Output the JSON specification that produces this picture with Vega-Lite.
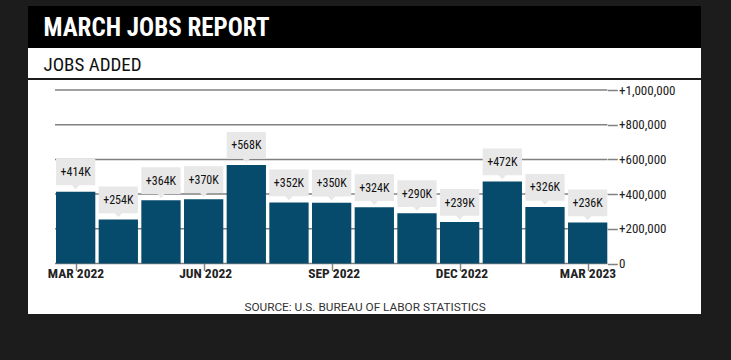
{
  "$schema": "https://vega.github.io/schema/vega-lite/v6.json",
  "background": "#1c1c1c",
  "padding": {"left": 28, "top": 6, "right": 30, "bottom": 46},
  "spacing": 0,
  "config": {"view": {"stroke": null}, "font": "'Roboto Condensed', 'DejaVu Sans Condensed', Roboto, sans-serif"},
  "vconcat": [
    {
      "width": 673,
      "height": 42,
      "view": {"fill": "#000000", "stroke": null},
      "data": {"values": [{"t": ""}]},
      "mark": {"type": "text"},
      "encoding": {
        "x": {"field": "t", "type": "nominal", "axis": {
          "orient": "top", "labels": false, "ticks": false, "domain": false, "grid": false,
          "title": "MARCH JOBS REPORT", "titleX": 15, "titleY": 29, "titleAlign": "left", "titleBaseline": "alphabetic", "titleAngle": 0,
          "titleColor": "#ffffff", "titleFont": "'Roboto Condensed', 'DejaVu Sans Condensed', Roboto, sans-serif", "titleFontSize": 25, "titleFontWeight": "bold"
        }},
        "text": {"field": "t"}
      }
    },
    {
      "spacing": 2,
      "vconcat": [
        {
          "width": 673,
          "height": 30,
          "view": {"fill": "#ffffff", "stroke": null},
          "data": {"values": [{"t": ""}]},
          "mark": {"type": "text"},
          "encoding": {
            "x": {"field": "t", "type": "nominal", "axis": {
              "orient": "top", "labels": false, "ticks": false, "domain": false, "grid": false,
              "title": "JOBS ADDED", "titleX": 15, "titleY": 22, "titleAlign": "left", "titleBaseline": "alphabetic", "titleAngle": 0,
              "titleColor": "#111111", "titleFont": "'Roboto Condensed', 'DejaVu Sans Condensed', Roboto, sans-serif", "titleFontSize": 19, "titleFontWeight": "normal"
            }},
            "text": {"field": "t"}
          }
        },
        {
          "width": 673,
          "height": 234,
          "view": {"fill": "#ffffff", "stroke": null},
          "data": {"values": [
            {"month": "MAR 2022", "jobs": 414000, "label": "+414K"},
            {"month": "APR 2022", "jobs": 254000, "label": "+254K"},
            {"month": "MAY 2022", "jobs": 364000, "label": "+364K"},
            {"month": "JUN 2022", "jobs": 370000, "label": "+370K"},
            {"month": "JUL 2022", "jobs": 568000, "label": "+568K"},
            {"month": "AUG 2022", "jobs": 352000, "label": "+352K"},
            {"month": "SEP 2022", "jobs": 350000, "label": "+350K"},
            {"month": "OCT 2022", "jobs": 324000, "label": "+324K"},
            {"month": "NOV 2022", "jobs": 290000, "label": "+290K"},
            {"month": "DEC 2022", "jobs": 239000, "label": "+239K"},
            {"month": "JAN 2023", "jobs": 472000, "label": "+472K"},
            {"month": "FEB 2023", "jobs": 326000, "label": "+326K"},
            {"month": "MAR 2023", "jobs": 236000, "label": "+236K"}
          ]},
          "layer": [
            {
              "data": {"values": [{"v": 0}, {"v": 200000}, {"v": 400000}, {"v": 600000}, {"v": 800000}, {"v": 1000000}]},
              "mark": {"type": "rule", "color": "#808080", "strokeWidth": 1.5, "xOffset": -20.65, "x2Offset": 19.65},
              "encoding": {
                "x": {"datum": "MAR 2022", "type": "ordinal"},
                "x2": {"datum": "MAR 2023"},
                "y": {"field": "v", "type": "quantitative"}
              }
            },
            {
              "mark": {"type": "bar", "color": "#064a6c"},
              "encoding": {
                "x": {
                  "field": "month", "type": "ordinal",
                  "scale": {"domain": ["MAR 2022", "APR 2022", "MAY 2022", "JUN 2022", "JUL 2022", "AUG 2022", "SEP 2022", "OCT 2022", "NOV 2022", "DEC 2022", "JAN 2023", "FEB 2023", "MAR 2023"], "range": [28, 579.3], "paddingInner": 0.079, "paddingOuter": 0},
                  "axis": {
                    "orient": "bottom", "offset": -50.5, "domain": false, "grid": false,
                    "ticks": true, "tickSize": 7, "tickColor": "#888888", "tickWidth": 1.5, "tickOffset": 0,
                    "values": ["MAR 2022", "JUN 2022", "SEP 2022", "DEC 2022", "MAR 2023"],
                    "labelAngle": 0, "labelFontSize": 13.5, "labelFontWeight": "bold", "labelColor": "#222222", "labelPadding": 2.5, "labelOffset": 28,
                    "title": "SOURCE: U.S. BUREAU OF LABOR STATISTICS",
                    "titleFont": "Roboto", "titleFontSize": 11.8, "titleFontWeight": "normal", "titleColor": "#333333", "titleX": 336.5, "titleAlign": "center", "titleY": 47, "titleBaseline": "alphabetic"
                  }
                },
                "y": {
                  "field": "jobs", "type": "quantitative",
                  "scale": {"domain": [-291066, 1057637], "nice": false, "zero": false},
                  "axis": {
                    "orient": "right", "offset": -93.7, "domain": false, "grid": false,
                    "values": [0, 200000, 400000, 600000, 800000, 1000000],
                    "ticks": true, "tickSize": 10, "tickColor": "#808080", "tickWidth": 1.5,
                    "labelExpr": "datum.value == 0 ? '0' : '+' + format(datum.value, ',')",
                    "labelFontSize": 13, "labelColor": "#222222", "labelPadding": 1.2,
                    "title": null
                  }
                }
              }
            },
            {
              "mark": {"type": "point", "filled": true, "opacity": 1, "strokeWidth": 0, "color": "#e8e8e8", "size": 1600, "yOffset": -17,
                "shape": "M-0.982,-0.8 L0.982,-0.8 L0.982,0.535 L0.18,0.535 L0,0.74 L-0.18,0.535 L-0.982,0.535 Z"},
              "encoding": {
                "x": {"field": "month", "type": "ordinal"},
                "y": {"field": "jobs", "type": "quantitative"}
              }
            },
            {
              "mark": {"type": "text", "baseline": "middle", "align": "center", "dy": -19.5, "fontSize": 12, "color": "#111111"},
              "encoding": {
                "x": {"field": "month", "type": "ordinal"},
                "y": {"field": "jobs", "type": "quantitative"},
                "text": {"field": "label"}
              }
            }
          ]
        }
      ]
    }
  ]
}
